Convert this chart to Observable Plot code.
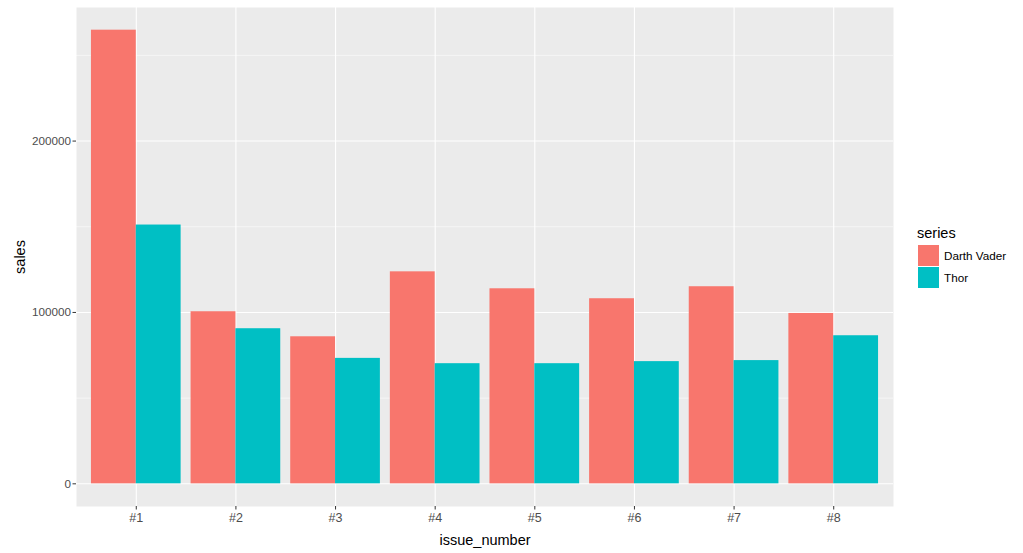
<!DOCTYPE html>
<html>
<head>
<meta charset="utf-8">
<script src="https://cdn.jsdelivr.net/npm/d3@7"></script>
<script src="https://cdn.jsdelivr.net/npm/@observablehq/plot@0.6"></script>
<style>
  html, body { margin: 0; padding: 0; background: #fff; }
  body { font-family: "Liberation Sans", Arial, sans-serif; }
  #wrap { position: relative; width: 1023px; height: 553px; }
  #legend { position: absolute; left: 917px; top: 225px; font-family: "Liberation Sans", Arial, sans-serif; }
  #legend .title { font-size: 14.5px; color: #000; margin-bottom: 3px; line-height: 16px; }
  #legend .row { display: flex; align-items: center; height: 22px; }
  #legend .key { width: 21px; height: 21px; margin-right: 5px; margin-left: 1px; }
  #legend .lab { font-size: 11.7px; color: #000; }
</style>
</head>
<body>
<div id="wrap"></div>
<script>
const issues = ["#1", "#2", "#3", "#4", "#5", "#6", "#7", "#8"];
const seriesNames = ["Darth Vader", "Thor"];
const darthVader = [264700, 100400, 85800, 123700, 113800, 108000, 115000, 99400];
const thor = [151000, 90500, 73200, 70100, 70100, 71300, 71900, 86400];
const seriesColors = ["#F8766D", "#00BFC4"];
const yMajor = [0, 100000, 200000];
const yMinor = [50000, 150000, 250000];

const data = [];
issues.forEach((iss, i) => {
  data.push({issue: iss, series: seriesNames[0], sales: darthVader[i]});
  data.push({issue: iss, series: seriesNames[1], sales: thor[i]});
});

const W = 1023, H = 553;
const mL = 76, mR = 130, mT = 7, mB = 47;
const padIn = 0.1, padOut = 0.15;
const step = (W - mL - mR) / (issues.length - padIn + 2 * padOut);
const half = step * (1 - padIn) / 2;
const yMax = d3.max(data, d => d.sales);
const expand = yMax * 0.05;

const chart = Plot.plot({
  width: W, height: H,
  marginLeft: mL, marginRight: mR, marginTop: mT, marginBottom: mB,
  style: {fontFamily: "'Liberation Sans', Arial, sans-serif", background: "#fff"},
  x: {type: "band", domain: issues, paddingInner: padIn, paddingOuter: padOut, round: false},
  y: {domain: [-expand, yMax + expand]},
  color: {domain: seriesNames, range: seriesColors},
  marks: [
    Plot.frame({fill: "#EBEBEB", stroke: null}),
    Plot.gridY(yMinor, {stroke: "#fff", strokeOpacity: 1, strokeWidth: 0.55}),
    Plot.gridY(yMajor, {stroke: "#fff", strokeOpacity: 1, strokeWidth: 1.1}),
    Plot.gridX(issues, {stroke: "#fff", strokeOpacity: 1, strokeWidth: 1.1}),
    Plot.barY(data.filter(d => d.series === seriesNames[0]), {x: "issue", y: "sales", fill: "series", insetLeft: 0, insetRight: half}),
    Plot.barY(data.filter(d => d.series === seriesNames[1]), {x: "issue", y: "sales", fill: "series", insetLeft: half, insetRight: 0}),
    Plot.axisY(yMajor, {tickSize: 3.5, tickPadding: 2, fontSize: 11.7, color: "#4D4D4D", stroke: "#333", tickFormat: d3.format("d"),
      label: "sales", labelAnchor: "center", labelOffset: 62, labelArrow: "none"}),
    Plot.axisX({tickSize: 3.5, tickPadding: 3, fontSize: 12.5, color: "#4D4D4D", stroke: "#333",
      label: "issue_number", labelAnchor: "center", labelOffset: 38, labelArrow: "none"})
  ]
});
document.getElementById("wrap").appendChild(chart);

chart.querySelectorAll("g[aria-label='y-axis label'] text, g[aria-label='x-axis label'] text").forEach(t => {
  t.setAttribute("font-size", "14.5");
  t.setAttribute("fill", "#000");
  t.parentNode.setAttribute("fill", "#000");
});

const legend = document.createElement("div");
legend.id = "legend";
legend.innerHTML = '<div class="title">series</div>' + seriesNames.map((s, i) =>
  `<div class="row"><div class="key" style="background:${seriesColors[i]}"></div><div class="lab">${s}</div></div>`).join("");
document.getElementById("wrap").appendChild(legend);
</script>
</body>
</html>
